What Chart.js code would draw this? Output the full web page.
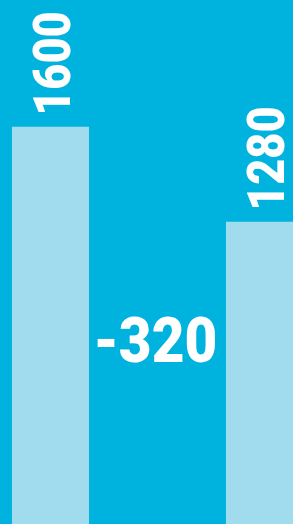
<!DOCTYPE html>
<html>
<head>
<meta charset="utf-8">
<script src="https://cdn.jsdelivr.net/npm/chart.js@4/dist/chart.umd.min.js"></script>
<style>
  html, body { margin: 0; padding: 0; background: #00B3DE; overflow: hidden; width: 293px; height: 524px; }
  #wrap { position: absolute; left: -3px; top: 0; width: 321px; height: 610px; }
  canvas { display: block; }
</style>
</head>
<body>
<div id="wrap"><canvas id="c" width="321" height="610"></canvas></div>
<script>
const categories = ['Before', 'Change', 'After'];
const values = [1600, -320, 1280];
const barValues = values.map((v, i) => (i === 1 ? null : v));
const labels = values.map(v => String(v));

const FONT = 'Roboto, "Liberation Sans", sans-serif';

// draw text whose ink starts at x=0 on the baseline, scaled to a target ink length
function fitText(ctx, text, targetLen) {
  const m = ctx.measureText(text);
  const ink = m.actualBoundingBoxLeft + m.actualBoundingBoxRight;
  const sx = targetLen / ink;
  ctx.scale(sx, 1);
  ctx.fillText(text, m.actualBoundingBoxLeft, 0);
}

const labelPlugin = {
  id: 'labels',
  afterDatasetsDraw(chart) {
    const ctx = chart.ctx;
    const meta = chart.getDatasetMeta(0);
    const xs = chart.scales.x;
    ctx.save();
    ctx.fillStyle = '#FFFFFF';
    ctx.textAlign = 'left';
    ctx.textBaseline = 'alphabetic';
    meta.data.forEach((bar, i) => {
      if (barValues[i] == null) return;
      ctx.save();
      ctx.font = '900 52px ' + FONT;
      ctx.translate(bar.x + 19.5, bar.y - 14.5);
      ctx.rotate(-Math.PI / 2);
      fitText(ctx, labels[i], 99);
      ctx.restore();
    });
    // middle change label
    ctx.save();
    ctx.font = '900 63px ' + FONT;
    const cx = xs.getPixelForValue(1);
    ctx.translate(cx - 60.5, 362);
    fitText(ctx, labels[1], 118);
    ctx.restore();
    ctx.restore();
  }
};

new Chart(document.getElementById('c'), {
  type: 'bar',
  data: {
    labels: categories,
    datasets: [{
      data: barValues,
      backgroundColor: '#A0DCEE',
      borderWidth: 0,
      categoryPercentage: 1,
      barPercentage: 0.72
    }]
  },
  options: {
    responsive: false,
    animation: false,
    devicePixelRatio: 1,
    layout: { padding: { top: 8, bottom: 8, left: 0, right: 0 } },
    plugins: { legend: { display: false }, tooltip: { enabled: false } },
    scales: {
      x: { display: false },
      y: { display: false, min: 0, max: 2000 }
    }
  },
  plugins: [labelPlugin]
});
</script>
</body>
</html>
